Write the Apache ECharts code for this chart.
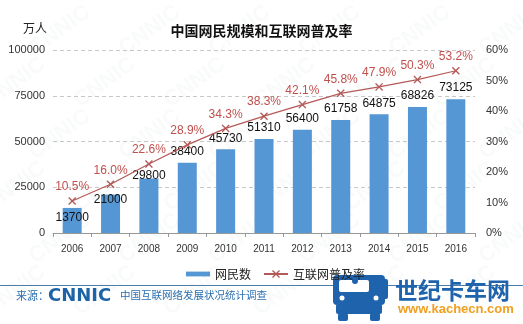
<!DOCTYPE html>
<html>
<head>
<meta charset="utf-8">
<script src="https://cdn.jsdelivr.net/npm/echarts@6/dist/echarts.min.js"></script>
<style>
  html, body { margin: 0; padding: 0; background: #fff; }
  #chart { width: 523px; height: 324px; }
</style>
</head>
<body>
<div id="chart"></div>
<script>
// Internet users in China (10k persons) and penetration rate, 2006-2016
const years = ['2006', '2007', '2008', '2009', '2010', '2011', '2012', '2013', '2014', '2015', '2016'];
const users = [13700, 21000, 29800, 38400, 45730, 51310, 56400, 61758, 64875, 68826, 73125];
const rate = [10.5, 16.0, 22.6, 28.9, 34.3, 38.3, 42.1, 45.8, 47.9, 50.3, 53.2];
const leftTicks = [0, 25000, 50000, 75000, 100000];
const rightTicks = [0, 10, 20, 30, 40, 50, 60];

const FONT = '"Liberation Sans", Arial, "Noto Sans CJK SC", sans-serif';
const CJK = '"Noto Sans CJK SC", sans-serif';
const BAR = '#5596d4';
const LINE = '#b35a58';
const XMARK = 'path://M0,1.2L1.2,0L5,3.8L8.8,0L10,1.2L6.2,5L10,8.8L8.8,10L5,6.2L1.2,10L0,8.8L3.8,5Z';

// first three value labels sit lower so the rate line stays clear
const userLabelShift = [21, 16, 8, 0, 0, 0, 0, 0, 0, 0, 0];

const chart = echarts.init(document.getElementById('chart'), null, { renderer: 'canvas' });

// faint diagonal brand watermark across the canvas
const marks = [];
for (let r = 0; r < 7; r++) {
  for (let c = 0; c < 7; c++) {
    marks.push({
      type: 'text', silent: true, z: -1,
      x: c * 90 - 20 + (r % 2) * 45, y: r * 52 - 10,
      rotation: Math.PI / 5,
      style: { text: 'CNNIC', fill: 'rgba(170,180,190,0.07)', font: 'bold 22px ' + FONT }
    });
  }
}

chart.setOption({
  animation: false,
  backgroundColor: '#fff',
  title: {
    text: '中国网民规模和互联网普及率',
    left: 'center', top: 19,
    textStyle: { fontFamily: CJK, fontSize: 14, fontWeight: 'bold', color: '#111' }
  },
  grid: { left: 53, right: 48, top: 50, bottom: 91 },
  legend: {
    bottom: 39, left: 181,
    itemWidth: 24, itemHeight: 10, itemGap: 12,
    textStyle: { fontFamily: CJK, fontSize: 12, color: '#222' },
    data: [
      { name: '网民数', icon: 'path://M0,0h20v4H0z' },
      { name: '互联网普及率' }
    ]
  },
  xAxis: {
    type: 'category', data: years,
    axisLine: { lineStyle: { color: '#999' } },
    axisTick: { show: true, length: 4, lineStyle: { color: '#999' } },
    axisLabel: { fontFamily: FONT, fontSize: 10, color: '#333', margin: 11 }
  },
  yAxis: [
    {
      type: 'value', min: 0, max: 100000, interval: 25000,
      name: '万人', nameLocation: 'end', nameGap: 16,
      nameTextStyle: { fontFamily: CJK, fontSize: 12, color: '#222', align: 'right', padding: [0, 6, 0, 0] },
      axisLine: { show: false }, axisTick: { show: false },
      axisLabel: { fontFamily: FONT, fontSize: 11, color: '#333', margin: 8,
        formatter: v => leftTicks.includes(v) ? String(v) : '' },
      splitLine: { lineStyle: { color: '#c8c8c8', type: [4, 3] } }
    },
    {
      type: 'value', min: 0, max: 60, interval: 10,
      axisLine: { show: false }, axisTick: { show: false },
      axisLabel: { fontFamily: FONT, fontSize: 11, color: '#333', margin: 11,
        formatter: v => rightTicks.includes(v) ? v + '%' : '' },
      splitLine: { show: false }
    }
  ],
  series: [
    {
      name: '网民数', type: 'bar', yAxisIndex: 0, barWidth: 19,
      itemStyle: { color: BAR },
      data: users.map((v, i) => ({
        value: v,
        label: { offset: [0, userLabelShift[i]] }
      })),
      label: { show: true, position: 'top', distance: 5,
        fontFamily: FONT, fontSize: 12, color: '#111' },
      z: 2
    },
    {
      name: '互联网普及率', type: 'line', yAxisIndex: 1,
      data: rate,
      symbol: XMARK, symbolSize: 8,
      lineStyle: { color: LINE, width: 1.2 },
      itemStyle: { color: LINE },
      label: { show: true, position: 'top', distance: 4,
        fontFamily: FONT, fontSize: 12, color: '#c0504d',
        formatter: p => p.value.toFixed(1) + '%' },
      z: 3
    }
  ],
  graphic: marks.concat([
    // footer rule
    { type: 'rect', shape: { x: 0, y: 285, width: 523, height: 1 }, style: { fill: '#4d7ea8' } },
    { type: 'text', x: 16, y: 290, style: { text: '来源：', fill: '#2a6fb0', font: '11px ' + CJK } },
    { type: 'text', x: 48, y: 287, style: { text: 'CNNIC', fill: '#1c63a8', font: 'bold 18px "DejaVu Sans", sans-serif' } },
    { type: 'text', x: 120, y: 290, style: { text: '中国互联网络发展状况统计调查', fill: '#2a6fb0', font: '10.5px ' + CJK } },
    // site badge: truck icon
    { type: 'rect', shape: { x: 333, y: 275, width: 52, height: 30, r: 4 }, style: { fill: '#1f63ad' } },
    { type: 'rect', shape: { x: 339, y: 280, width: 30, height: 12, r: 2 }, style: { fill: '#ffffff' } },
    { type: 'circle', shape: { cx: 355, cy: 281, r: 3 }, style: { fill: '#1f63ad' } },
    { type: 'rect', shape: { x: 374, y: 279, width: 14, height: 20, r: 2 }, style: { fill: '#1f63ad' } },
    { type: 'rect', shape: { x: 336, y: 304, width: 46, height: 10, r: 2 }, style: { fill: '#1f63ad' } },
    { type: 'rect', shape: { x: 338, y: 313, width: 10, height: 8, r: 2 }, style: { fill: '#1f63ad' } },
    { type: 'rect', shape: { x: 370, y: 313, width: 10, height: 8, r: 2 }, style: { fill: '#1f63ad' } },
    { type: 'circle', shape: { cx: 342, cy: 298, r: 2.5 }, style: { fill: '#ffffff' } },
    { type: 'circle', shape: { cx: 376, cy: 298, r: 2.5 }, style: { fill: '#ffffff' } },
    { type: 'text', x: 395, y: 279, style: { text: '世纪卡车网', fill: '#1f63ad', font: 'bold 23px ' + CJK } },
    { type: 'text', x: 398, y: 303, style: { text: 'www.kachecn.com', fill: '#f0a020', font: 'bold 13px ' + FONT } }
  ])
});
</script>
</body>
</html>
